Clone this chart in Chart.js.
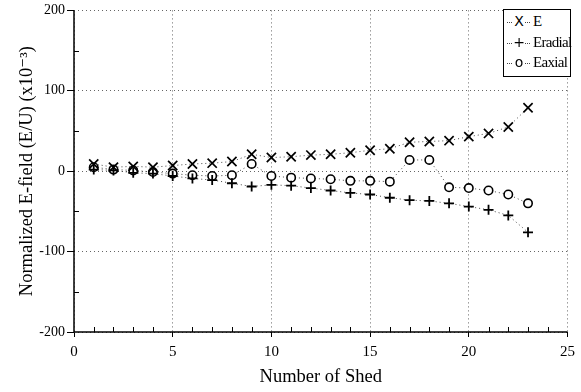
<!DOCTYPE html>
<html>
<head>
<meta charset="utf-8">
<script src="https://cdn.jsdelivr.net/npm/chart.js@4/dist/chart.umd.min.js"></script>
<style>
  body { margin: 0; background: #fff; }
  #wrap { position: relative; width: 581px; height: 392px; }
  #legend {
    position: absolute; left: 503px; top: 9px; width: 66px; height: 66px;
    border: 1px solid #000; background: #fff; color: #000;
    font-family: "Liberation Serif", "DejaVu Serif", serif; font-size: 15px;
  }
  .row { position: absolute; left: 0; height: 20px; width: 66px; }
  .row .ln { position: absolute; left: 3px; width: 23px; top: 11px; border-top: 1px dotted #444; }
  .row .mk { position: absolute; left: 9px; width: 12px; top: 1px; text-align: center; background: #fff; color: #000;
             font-family: "DejaVu Sans", sans-serif; font-size: 14px; line-height: 19px; }
  .row .tx { position: absolute; left: 29px; top: 0; line-height: 21px; letter-spacing: -0.7px; }
</style>
</head>
<body>
<div id="wrap">
  <canvas id="graph-box" width="581" height="392"></canvas>
  <div id="legend"></div>
</div>
<script>
const shedNo = [1,2,3,4,5,6,7,8,9,10,11,12,13,14,15,16,17,18,19,20,21,22,23];
const eTotal = [9,5,6,5,7,9,10,12,21,17,18,20,21,23,26,28,36,37,38,43,47,55,79];
const eRadial = [2,1,-2,-3,-6,-9,-11,-15,-19,-17,-18,-21,-24,-27,-29,-33,-36,-37,-40,-44,-48,-55,-76];
const eAxial = [5,2,1,-1,-3,-5,-6,-5,9,-6,-8,-9,-10,-12,-12,-13,14,14,-20,-21,-24,-29,-40];
const seriesNames = ['E', 'Eradial', 'Eaxial'];
const legendGlyphs = ['X', '+', 'o'];

const serif = '"Liberation Serif", "DejaVu Serif", serif';

function toPoints(ys) {
  return shedNo.map((x, i) => ({ x: x, y: ys[i] }));
}

// solid left/bottom axis lines + inward minor ticks
const axisLines = {
  id: 'axisLines',
  afterDraw(chart) {
    const c = chart.ctx;
    const xs = chart.scales.x, ys = chart.scales.y;
    const a = chart.chartArea;
    c.save();
    c.setLineDash([]);
    c.strokeStyle = '#000';
    c.lineWidth = 1.5;
    c.beginPath();
    c.moveTo(a.left, a.top);
    c.lineTo(a.left, a.bottom);
    c.lineTo(a.right, a.bottom);
    c.stroke();
    c.lineWidth = 1;
    c.beginPath();
    for (let v = 1; v < 25; v++) {
      if (v % 5 === 0) continue;
      const px = Math.round(xs.getPixelForValue(v)) + 0.5;
      c.moveTo(px, a.bottom);
      c.lineTo(px, a.bottom - 5);
    }
    for (let v = -150; v < 200; v += 100) {
      const py = Math.round(ys.getPixelForValue(v)) + 0.5;
      c.moveTo(a.left, py);
      c.lineTo(a.left + 5, py);
    }
    c.stroke();
    c.restore();
  }
};

const ctx = document.getElementById('graph-box');

const myChart = new Chart(ctx, {
  type: 'scatter',
  data: {
    datasets: [
      {
        label: seriesNames[0],
        data: toPoints(eTotal),
        showLine: true,
        borderColor: '#444',
        borderWidth: 1,
        borderDash: [1, 3],
        pointStyle: 'crossRot',
        pointRadius: 6.5,
        pointBorderColor: '#000',
        pointBorderWidth: 1.7,
        pointBackgroundColor: '#000'
      },
      {
        label: seriesNames[1],
        data: toPoints(eRadial),
        showLine: true,
        borderColor: '#444',
        borderWidth: 1,
        borderDash: [1, 3],
        pointStyle: 'cross',
        pointRadius: 5,
        pointBorderColor: '#000',
        pointBorderWidth: 1.8,
        pointBackgroundColor: '#000'
      },
      {
        label: seriesNames[2],
        data: toPoints(eAxial),
        showLine: true,
        borderColor: '#444',
        borderWidth: 1,
        borderDash: [1, 3],
        pointStyle: 'circle',
        pointRadius: 4.2,
        pointBorderColor: '#000',
        pointBorderWidth: 1.6,
        pointBackgroundColor: '#fff'
      }
    ]
  },
  options: {
    responsive: false,
    animation: false,
    layout: { padding: { top: 7, right: 11, left: 0, bottom: 0 } },
    plugins: {
      legend: { display: false },
      tooltip: { enabled: false }
    },
    scales: {
      x: {
        type: 'linear',
        min: 0,
        max: 25,
        afterFit(s) { s.height = 60; },
        border: { display: false, dash: [1, 3] },
        grid: {
          color: '#666',
          tickColor: '#000',
          tickLength: 5,
          tickBorderDash: []
        },
        ticks: {
          stepSize: 5,
          color: '#000',
          padding: 6,
          font: { family: serif, size: 15 }
        },
        title: {
          display: true,
          text: 'Number of Shed',
          color: '#000',
          font: { family: serif, size: 18.5 },
          padding: { top: 0, bottom: 4 }
        }
      },
      y: {
        min: -200,
        max: 200,
        afterFit(s) { s.width = 74; },
        border: { display: false, dash: [1, 3] },
        grid: {
          color: '#666',
          tickColor: '#000',
          tickLength: 7,
          tickBorderDash: []
        },
        ticks: {
          stepSize: 100,
          color: '#000',
          padding: 2,
          font: { family: serif, size: 14 }
        },
        title: {
          display: true,
          text: 'Normalized E-field (E/U) (x10\u207B\u00B3)',
          color: '#000',
          font: { family: serif, size: 18.5 },
          padding: { top: 16, bottom: 0 }
        }
      }
    }
  },
  plugins: [axisLines]
});

// legend box in the top right corner
const legendBox = document.getElementById('legend');
seriesNames.forEach((name, i) => {
  const row = document.createElement('div');
  row.className = 'row';
  row.style.top = (1 + i * 20.5) + 'px';
  row.innerHTML = '<div class="ln"></div><div class="mk">' + legendGlyphs[i] +
    '</div><div class="tx">' + name + '</div>';
  legendBox.appendChild(row);
});
</script>
</body>
</html>
